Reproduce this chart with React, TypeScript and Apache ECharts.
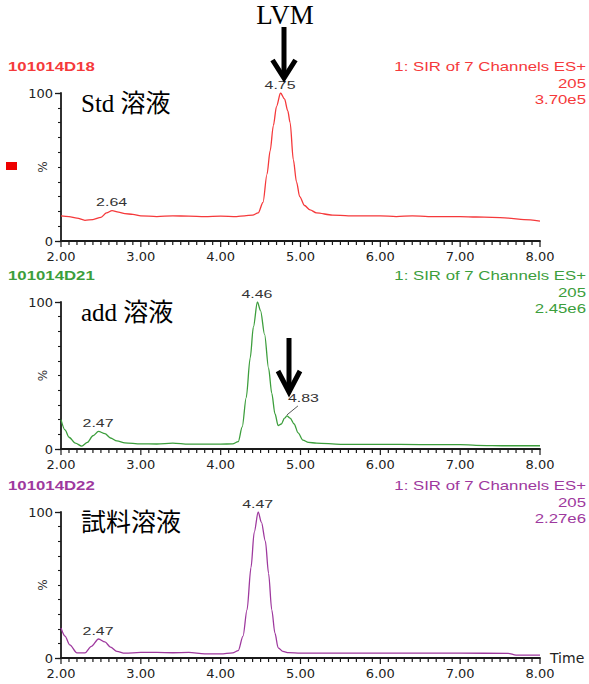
import React, { useEffect, useRef } from "react";
import * as echarts from "echarts";

// Retention time (min) vs. relative intensity (%) for each chromatogram
const stdTrace: [number, number][] = [
  [2.0, 17], [2.1, 16.5], [2.2, 15.5], [2.3, 14], [2.4, 14.5], [2.5, 16], [2.57, 19],
  [2.64, 20.5], [2.72, 19.5], [2.8, 18.5], [2.9, 18], [3.0, 17], [3.2, 16.5], [3.4, 17],
  [3.6, 16.8], [3.8, 16.5], [4.0, 16.8], [4.2, 16.5], [4.3, 17], [4.4, 17.5], [4.47, 19],
  [4.53, 26], [4.58, 45], [4.62, 61], [4.66, 78], [4.7, 91], [4.75, 100], [4.8, 96],
  [4.84, 88], [4.87, 80], [4.91, 55], [4.95, 40], [4.99, 30], [5.05, 24], [5.12, 21],
  [5.2, 19], [5.4, 17.5], [5.6, 17], [5.8, 17], [6.0, 17], [6.2, 16.5], [6.4, 17],
  [6.6, 16.5], [6.8, 16.5], [7.0, 16.5], [7.2, 16.2], [7.4, 16], [7.6, 15.5], [7.8, 14.5],
  [8.0, 13.5],
];

const addTrace: [number, number][] = [
  [2.0, 20], [2.05, 13], [2.1, 8], [2.18, 4], [2.26, 2], [2.33, 4.5], [2.4, 9], [2.47, 12],
  [2.55, 10.5], [2.62, 7.5], [2.7, 5.5], [2.8, 4.2], [3.0, 3.5], [3.2, 3.4], [3.4, 4],
  [3.6, 3.3], [3.8, 3.3], [4.0, 3.3], [4.15, 3.5], [4.22, 5], [4.27, 15], [4.32, 35],
  [4.37, 62], [4.41, 83], [4.46, 100], [4.5, 94], [4.55, 78], [4.6, 55], [4.64, 38],
  [4.68, 24], [4.72, 16], [4.76, 17], [4.8, 21], [4.83, 22.5], [4.87, 21], [4.92, 17],
  [4.97, 11], [5.03, 6], [5.1, 4.5], [5.2, 4], [5.5, 3.2], [6.0, 3.2], [6.5, 3], [7.0, 3],
  [7.2, 2.5], [7.6, 2.2], [8.0, 2.2],
];

const sampleTrace: [number, number][] = [
  [2.0, 20.5], [2.05, 15], [2.11, 9], [2.2, 3.5], [2.3, 3.5], [2.38, 8], [2.47, 13],
  [2.55, 11], [2.62, 7.5], [2.7, 4.5], [2.8, 3.3], [3.0, 3.8], [3.2, 3.8], [3.4, 3.6],
  [3.6, 3.8], [3.8, 2.8], [4.0, 2.8], [4.15, 3.5], [4.22, 5], [4.28, 15], [4.33, 33],
  [4.38, 62], [4.42, 86], [4.47, 100], [4.51, 93], [4.56, 80], [4.6, 58], [4.64, 33],
  [4.68, 17], [4.72, 7], [4.78, 4.5], [4.85, 3.7], [5.0, 3.3], [6.0, 3.3], [7.0, 3.3],
  [7.6, 3.2], [7.7, 2], [8.0, 2],
];

const traces = [stdTrace, addTrace, sampleTrace];
const sampleIds = ["101014D18", "101014D21", "101014D22"];
const channelLabels = ["1: SIR of 7 Channels ES+", "1: SIR of 7 Channels ES+", "1: SIR of 7 Channels ES+"];
const massLabels = ["205", "205", "205"];
const intensityLabels = ["3.70e5", "2.45e6", "2.27e6"];
const panelTitles = ["Std 溶液", "add 溶液", "試料溶液"];
const peakTimes = [[2.64, 4.75], [2.47, 4.46, 4.83], [2.47, 4.47]];
const colors = ["#f5393b", "#3c9e3c", "#9e399e"];
const xMin = 2;
const xMax = 8;
const xMajor = 1;
const xMinorPerMajor = 10;
const yMin = 0;
const yMax = 100;
const yMajor = 100;
const yMinor = 10;

const GRID_TOPS = [93, 302, 512];
const GRID_HEIGHTS = [148, 147, 146];
const GRID_LEFT = 61;
const GRID_RIGHT = 49;
const AXIS_FONT = '"DejaVu Sans", "Liberation Sans", sans-serif';
const SANS = '"Liberation Sans", Arial, sans-serif';
const SERIF = '"Liberation Serif", "Noto Sans CJK JP", serif';
const INK = "#1a1a1a";
const MAJOR_TICK = 6;
const MINOR_TICK = 4;

function stretchedText(x: number, y: number, text: string, fill: string, align: string, font: string, scaleX: number) {
  return {
    type: "text",
    x,
    y,
    scaleX,
    silent: true,
    style: {
      text,
      fill,
      font,
      align,
      textAlign: align,
      verticalAlign: "middle",
      textVerticalAlign: "middle",
    },
  };
}

function arrow(x: number, yTop: number, yTip: number, half: number, head: number) {
  return [
    {
      type: "line",
      silent: true,
      shape: { x1: x, y1: yTop, x2: x, y2: yTip - 3 },
      style: { stroke: "#000", lineWidth: 5 },
    },
    {
      type: "polyline",
      silent: true,
      shape: { points: [[x - half, yTip - head], [x, yTip], [x + half, yTip - head]] },
      style: { stroke: "#000", lineWidth: 5, fill: null, lineJoin: "miter" },
    },
  ];
}

export default function App() {
  const ref = useRef<HTMLDivElement>(null);

  useEffect(() => {
    if (!ref.current) return;
    const chart = echarts.init(ref.current, null, { renderer: "svg" });

    const grids = GRID_TOPS.map((top, i) => ({
      left: GRID_LEFT,
      right: GRID_RIGHT,
      top,
      height: GRID_HEIGHTS[i],
    }));

    const xAxes: any[] = [];
    const yAxes: any[] = [];
    traces.forEach((_, i) => {
      xAxes.push({
        type: "value",
        gridIndex: i,
        position: "bottom",
        min: xMin,
        max: xMax,
        interval: xMajor,
        name: i === 2 ? "Time" : "",
        nameLocation: "end",
        nameGap: 10,
        nameTextStyle: { fontFamily: AXIS_FONT, fontSize: 14, color: "#222", verticalAlign: "middle" },
        axisLine: { show: true, onZero: false, lineStyle: { color: INK, width: 1.8 } },
        axisTick: { show: false },
        splitLine: { show: false },
        axisLabel: {
          fontFamily: AXIS_FONT,
          fontSize: 13,
          color: "#222",
          margin: 9,
          formatter: (v: number) => v.toFixed(2),
        },
      });
      yAxes.push({
        type: "value",
        gridIndex: i,
        position: "left",
        min: yMin,
        max: yMax,
        interval: yMajor,
        axisLine: { show: true, onZero: false, lineStyle: { color: INK, width: 1.8 } },
        axisTick: { show: true, length: 6, lineStyle: { color: INK, width: 1.3 } },
        splitLine: { show: false },
        axisLabel: { fontFamily: AXIS_FONT, fontSize: 13, color: "#222", margin: 8 },
      });
    });
    traces.forEach((_, i) => {
      // fine intensity ticks sharing the same grid
      yAxes.push({
        type: "value",
        gridIndex: i,
        position: "left",
        offset: 0,
        min: yMin,
        max: yMax,
        interval: yMinor,
        axisLine: { show: false, onZero: false },
        axisTick: { show: true, length: 3, lineStyle: { color: INK, width: 1.1 } },
        axisLabel: { show: false },
        splitLine: { show: false },
      });
    });

    const series: any[] = traces.map((data, i) => ({
      type: "line",
      xAxisIndex: i,
      yAxisIndex: i,
      data,
      showSymbol: false,
      smooth: 0.3,
      smoothMonotone: "x",
      lineStyle: { color: colors[i], width: 1.3 },
      silent: true,
    }));

    chart.setOption({
      animation: false,
      backgroundColor: "#fff",
      grid: grids,
      xAxis: xAxes,
      yAxis: yAxes,
      series,
    });

    const graphics: any[] = [];
    const headerFont = `bold 12px ${SANS}`;
    const rightFont = `12px ${SANS}`;
    GRID_TOPS.forEach((top, i) => {
      const y0 = top - 26;
      graphics.push(stretchedText(8, y0, sampleIds[i], colors[i], "left", headerFont, 1.4));
      graphics.push(stretchedText(586, y0, channelLabels[i], colors[i], "right", rightFont, 1.4));
      graphics.push(stretchedText(586, y0 + 16.5, massLabels[i], colors[i], "right", rightFont, 1.4));
      graphics.push(stretchedText(586, y0 + 32.5, intensityLabels[i], colors[i], "right", rightFont, 1.4));
      graphics.push({
        type: "text",
        x: 81,
        y: top + 10,
        silent: true,
        style: {
          text: panelTitles[i],
          fill: "#000",
          font: `25px ${SERIF}`,
          align: "left",
          textAlign: "left",
          verticalAlign: "middle",
          textVerticalAlign: "middle",
        },
      });

      // "%" intensity unit beside the y axis
      graphics.push({
        type: "text",
        x: 43,
        y: top + GRID_HEIGHTS[i] / 2,
        rotation: Math.PI / 2,
        silent: true,
        style: {
          text: "%",
          fill: "#333",
          font: `12px ${AXIS_FONT}`,
          align: "center",
          textAlign: "center",
          verticalAlign: "middle",
          textVerticalAlign: "middle",
        },
      });

      // time-axis tick marks every tenth of a minute, longer on whole minutes
      const nTicks = (xMax - xMin) * xMinorPerMajor;
      for (let k = 0; k <= nTicks; k++) {
        const t = xMin + k / xMinorPerMajor;
        const [tx, ty] = chart.convertToPixel({ gridIndex: i }, [t, yMin]) as number[];
        const len = k % xMinorPerMajor === 0 ? MAJOR_TICK : MINOR_TICK;
        graphics.push({
          type: "line",
          silent: true,
          shape: { x1: tx, y1: ty, x2: tx, y2: ty + len },
          style: { stroke: INK, lineWidth: 1.2 },
        });
      }

      // peak retention-time labels, placed from the trace values
      peakTimes[i].forEach((t) => {
        const pt = traces[i].find((p) => p[0] === t);
        if (!pt) return;
        const [px, py] = chart.convertToPixel({ gridIndex: i }, pt) as number[];
        const label = t.toFixed(2);
        if (i === 1 && t === 4.83) {
          graphics.push({
            type: "line",
            silent: true,
            shape: { x1: px, y1: py - 1, x2: px + 11, y2: py - 10 },
            style: { stroke: "#555", lineWidth: 1 },
          });
          graphics.push(stretchedText(px + 1, py - 18, label, "#333", "left", `11px ${SANS}`, 1.45));
        } else {
          graphics.push(stretchedText(px - 16, py - 8, label, "#333", "left", `11px ${SANS}`, 1.45));
        }
      });
    });

    // legend marker of the first trace
    graphics.push({
      type: "rect",
      silent: true,
      shape: { x: 6, y: 162, width: 11, height: 8 },
      style: { fill: "#ee0000" },
    });

    // LVM marker above the standard peak and on the spiked sample
    graphics.push({
      type: "text",
      x: 285,
      y: 15,
      silent: true,
      style: {
        text: "LVM",
        fill: "#000",
        font: `27px ${SERIF}`,
        align: "center",
        textAlign: "center",
        verticalAlign: "middle",
        textVerticalAlign: "middle",
      },
    });
    graphics.push(...arrow(284, 27, 78, 11.5, 18));
    graphics.push(...arrow(289, 338, 392, 11, 21));

    chart.setOption({ graphic: graphics });

    return () => chart.dispose();
  }, []);

  return (
    <div
      ref={ref}
      style={{ position: "fixed", left: 0, top: 0, width: 589, height: 684, background: "#fff" }}
    />
  );
}
